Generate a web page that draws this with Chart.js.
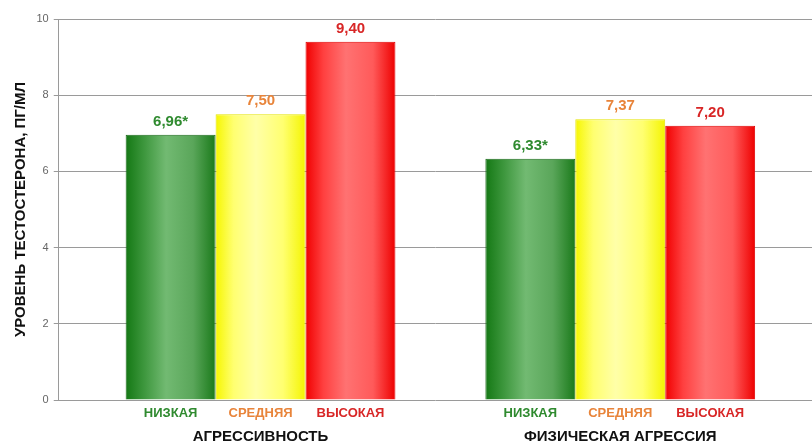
<!DOCTYPE html>
<html>
<head>
<meta charset="utf-8">
<script src="https://cdn.jsdelivr.net/npm/chart.js@4.4.1/dist/chart.umd.min.js"></script>
<style>
  html, body { margin: 0; padding: 0; background: #fff; }
  #wrap { width: 812px; height: 444px; position: relative; }
</style>
</head>
<body>
<div id="wrap"><canvas id="chart"></canvas></div>
<script>
const groups = ['АГРЕССИВНОСТЬ', 'ФИЗИЧЕСКАЯ АГРЕССИЯ'];
const levels = ['НИЗКАЯ', 'СРЕДНЯЯ', 'ВЫСОКАЯ'];
const lowValues = [6.96, 6.33];
const midValues = [7.50, 7.37];
const highValues = [9.40, 7.20];
const marks = ['*', '', ''];          // significance mark per level
const yTicks = [0, 2, 4, 6, 8, 10];

const FONT = '"Liberation Sans", Arial, sans-serif';
const CAT_PCT = 0.75;

// gradient stops, label colour, border per level
const looks = [
  { stops: ['#147814', '#3c963c', '#72ba72', '#5aa65a', '#1a7a1a'], border: '#1a6a1a', text: '#2f8a2f' },
  { stops: ['#f6f600', '#ffff70', '#ffffa8', '#ffff70', '#f4f400'], border: '#e4e400', text: '#e8843a' },
  { stops: ['#f00000', '#ff4040', '#ff7272', '#ff5a5a', '#ee0000'], border: '#e00000', text: '#d82626' },
];

function barFill(level) {
  return (ctx) => {
    const chart = ctx.chart;
    const xs = chart.scales.x;
    if (!xs || ctx.dataIndex == null || !chart.chartArea) return looks[level].stops[0];
    const step = xs.getPixelForValue(1) - xs.getPixelForValue(0);
    const w = step * CAT_PCT / levels.length;
    const left = xs.getPixelForValue(ctx.dataIndex) - step * CAT_PCT / 2 + level * w;
    const g = chart.ctx.createLinearGradient(left, 0, left + w, 0);
    const s = looks[level].stops;
    [0, 0.2, 0.45, 0.75, 1].forEach((p, i) => g.addColorStop(p, s[i]));
    return g;
  };
}

const series = [lowValues, midValues, highValues];

const labelsPlugin = {
  id: 'barLabels',
  afterDatasetsDraw(chart) {
    const { ctx, chartArea } = chart;
    ctx.save();
    ctx.textAlign = 'center';
    chart.data.datasets.forEach((ds, di) => {
      const meta = chart.getDatasetMeta(di);
      meta.data.forEach((bar, i) => {
        const v = ds.data[i].y;
        ctx.fillStyle = looks[di].text;
        ctx.font = 'bold 15px ' + FONT;
        ctx.textBaseline = 'alphabetic';
        ctx.fillText(v.toFixed(2).replace('.', ',') + marks[di], bar.x, bar.y - 9);
        ctx.font = 'bold 13px ' + FONT;
        ctx.textBaseline = 'middle';
        ctx.fillText(levels[di], bar.x, chartArea.bottom + 13);
      });
    });
    ctx.restore();
  },
};

new Chart(document.getElementById('chart'), {
  type: 'bar',
  data: {
    datasets: series.map((vals, li) => ({
      label: levels[li],
      data: vals.map((y, gi) => ({ x: gi, y })),
      backgroundColor: barFill(li),
      borderColor: looks[li].border,
      borderWidth: 1,
      borderSkipped: 'bottom',
    })),
  },
  options: {
    responsive: true,
    maintainAspectRatio: false,
    animation: false,
    categoryPercentage: CAT_PCT,
    barPercentage: 1,
    layout: { padding: { top: 19, left: 11.5, right: 0, bottom: 0 } },
    plugins: { legend: { display: false }, tooltip: { enabled: false } },
    scales: {
      x: {
        type: 'linear',
        offset: false,
        bounds: 'data',
        min: -0.561,
        max: 1.533,
        afterBuildTicks: (scale) => { scale.ticks = groups.map((_, i) => ({ value: i })); },
        afterFit: (scale) => { scale.height = 44; },
        grid: { display: false, drawTicks: false },
        border: { display: false },
        ticks: {
          autoSkip: false,
          maxRotation: 0,
          padding: 28,
          color: '#111',
          font: { family: FONT, size: 15, weight: 'bold' },
          callback: (v) => groups[v] ?? '',
        },
      },
      y: {
        min: 0,
        max: 10,
        afterBuildTicks: (scale) => { scale.ticks = yTicks.map((value) => ({ value })); },
        grid: { color: '#9a9a9a', lineWidth: 1, tickLength: 5, tickColor: '#9a9a9a' },
        border: { color: '#9a9a9a' },
        ticks: {
          padding: 5,
          color: '#666',
          font: { family: FONT, size: 11 },
        },
        title: {
          display: true,
          text: 'УРОВЕНЬ ТЕСТОСТЕРОНА, ПГ/МЛ',
          color: '#111',
          padding: { top: 0, bottom: 2 },
          font: { family: FONT, size: 15, weight: 'bold' },
        },
      },
    },
  },
  plugins: [labelsPlugin],
});
</script>
</body>
</html>
